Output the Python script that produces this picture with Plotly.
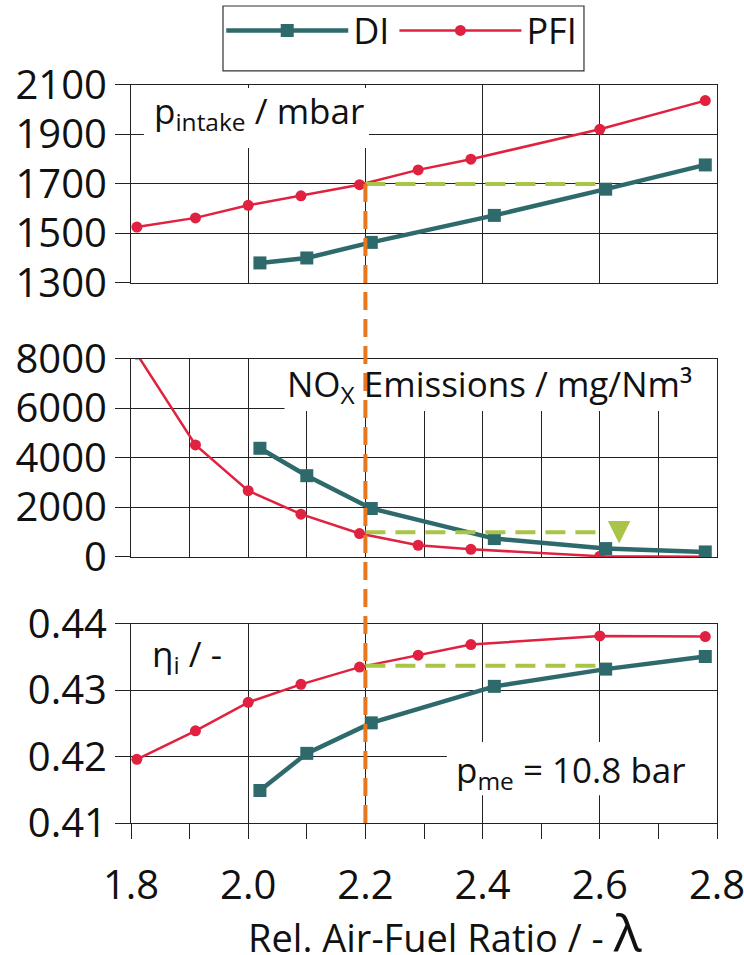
import plotly.graph_objects as go

# ---------------- data ----------------
lam_pfi = [1.81, 1.91, 2.00, 2.09, 2.19, 2.29, 2.38, 2.60, 2.78]
p_pfi = [1526, 1563, 1614, 1652, 1697, 1757, 1800, 1921, 2037]
nox_pfi = [8200, 4527, 2676, 1730, 946, 473, 311, 30, 10]
eta_pfi = [0.4196, 0.4239, 0.4282, 0.4309, 0.4335, 0.4353, 0.4369, 0.4382, 0.4381]

lam_di = [2.02, 2.10, 2.21, 2.42, 2.61, 2.78]
p_di = [1381, 1401, 1464, 1573, 1679, 1777]
nox_di = [4392, 3284, 1959, 743, 338, 203]
eta_di = [0.4149, 0.4205, 0.4251, 0.4306, 0.4332, 0.4351]

x_ticks = [1.8, 2.0, 2.2, 2.4, 2.6, 2.8]
x_ticktext = ["1.8", "2.0", "2.2", "2.4", "2.6", "2.8"]

lam_ref = 2.2          # chosen operating point (orange line)
p_ref = 1700           # intake pressure level (green line top)
nox_ref = 1000         # NOx level (green line middle)
eta_ref = 0.4337       # efficiency level (green line bottom)
lam_end = 2.6          # end of green lines
lam_arrow = 2.633      # position of green arrow
nox_arrow_top = 1350
nox_arrow_tip = 540

# ---------------- style ----------------
DI_C = "#2E6A6C"
PFI_C = "#E0213F"
ORANGE = "#E8771E"
GREEN = "#A9C547"
FONT = "Open Sans"
TICK_SIZE = 40

dom_top = [0.7037, 0.9110]
dom_mid = [0.4168, 0.6241]
dom_bot = [0.1382, 0.3466]

fig = go.Figure()

panels = [("x", "y", p_pfi, p_di), ("x2", "y2", nox_pfi, nox_di), ("x3", "y3", eta_pfi, eta_di)]
for i, (xa, ya, ypfi, ydi) in enumerate(panels):
    fig.add_trace(go.Scatter(x=lam_pfi, y=ypfi, xaxis=xa, yaxis=ya, mode="lines+markers",
                             name="PFI", showlegend=(i == 0), legendrank=2,
                             line=dict(color=PFI_C, width=2.5),
                             marker=dict(symbol="circle", size=11, color=PFI_C)))
    fig.add_trace(go.Scatter(x=lam_di, y=ydi, xaxis=xa, yaxis=ya, mode="lines+markers",
                             name="DI", showlegend=(i == 0), legendrank=1,
                             line=dict(color=DI_C, width=4.5),
                             marker=dict(symbol="square", size=13, color=DI_C)))

axis_common = dict(showline=True, linecolor="#222", linewidth=1.2, mirror=True,
                   gridcolor="#222", gridwidth=1, zeroline=False, automargin=False,
                   tickfont=dict(family=FONT, size=TICK_SIZE, color="#111"))

fig.update_layout(
    width=744, height=955,
    margin=dict(l=131, r=27, t=0, b=0, autoexpand=False),
    paper_bgcolor="white", plot_bgcolor="white",
    font=dict(family=FONT, color="#111"),
    showlegend=True,
    legend=dict(orientation="h", x=0.462, y=0.9995, xanchor="center", yanchor="top",
                borderwidth=0, bgcolor="rgba(0,0,0,0)",
                font=dict(family=FONT, size=36, color="#111"), itemwidth=122,
                traceorder="normal"),
    xaxis=dict(domain=[0, 1], anchor="y", range=[1.8, 2.8], tickvals=x_ticks,
               showticklabels=False, ticks="", showgrid=True, **axis_common),
    xaxis2=dict(domain=[0, 1], anchor="y2", range=[1.8, 2.8], dtick=0.1, tick0=1.8,
                showticklabels=False, ticks="", showgrid=True, **axis_common),
    xaxis3=dict(domain=[0, 1], anchor="y3", range=[1.8, 2.8], tickvals=x_ticks,
                ticktext=x_ticktext, ticks="outside", ticklen=15, tickcolor="#222",
                ticklabelstandoff=12, ticklabeloverflow="allow",
                minor=dict(dtick=0.1, tick0=1.8, ticks="outside", ticklen=15,
                           tickcolor="#222", showgrid=False),
                showgrid=True, **axis_common),
    yaxis=dict(domain=dom_top, anchor="x", range=[1300, 2100], dtick=200, tick0=1300,
               ticks="outside", ticklen=15, tickcolor="#222", showgrid=True, **axis_common),
    yaxis2=dict(domain=dom_mid, anchor="x2", range=[0, 8000], dtick=2000,
                ticks="outside", ticklen=15, tickcolor="#222", showgrid=True, **axis_common),
    yaxis3=dict(domain=dom_bot, anchor="x3", range=[0.41, 0.44], dtick=0.01,
                tickformat=".2f", ticks="outside", ticklen=15, tickcolor="#222",
                showgrid=True, **axis_common),
)

# legend frame
fig.add_shape(type="rect", xref="paper", yref="paper", x0=0.157, x1=0.773, y0=0.9257, y1=0.9937,
              line=dict(color="#333", width=1.2), fillcolor="rgba(0,0,0,0)")

# white boxes behind panel labels (cover gridlines, under traces)
fig.add_shape(type="rect", xref="x", yref="y", x0=1.822, x1=2.206, y0=1845, y1=2088,
              fillcolor="white", line=dict(width=0), layer="between")
fig.add_shape(type="rect", xref="x2", yref="y2", x0=2.062, x1=2.8, y0=5900, y1=8000,
              fillcolor="white", line=dict(width=0), layer="between")
fig.add_shape(type="rect", xref="x3", yref="y3", x0=2.339, x1=2.8, y0=0.4142, y1=0.4222,
              fillcolor="white", line=dict(width=0), layer="between")

# green dashed lines
dash = "20px,10px"
fig.add_shape(type="line", xref="x", yref="y", x0=lam_ref, x1=lam_end, y0=p_ref, y1=p_ref,
              line=dict(color=GREEN, width=4, dash=dash))
fig.add_shape(type="line", xref="x2", yref="y2", x0=lam_ref, x1=lam_end, y0=nox_ref, y1=nox_ref,
              line=dict(color=GREEN, width=4, dash=dash))
fig.add_shape(type="line", xref="x3", yref="y3", x0=lam_ref, x1=lam_end, y0=eta_ref, y1=eta_ref,
              line=dict(color=GREEN, width=4, dash=dash))
fig.add_annotation(xref="x2", yref="y2", axref="x2", ayref="y2",
                   x=lam_arrow, y=nox_arrow_tip, ax=lam_arrow, ay=nox_arrow_top,
                   showarrow=True, arrowhead=2, arrowsize=0.9, arrowwidth=5,
                   arrowcolor=GREEN, text="")

# orange vertical dashed line
y_top_orange = dom_top[0] + (p_ref - 1300) / (2100 - 1300) * (dom_top[1] - dom_top[0])
fig.add_shape(type="line", xref="x", yref="paper", x0=lam_ref, x1=lam_ref,
              y0=y_top_orange, y1=0.133,
              line=dict(color=ORANGE, width=4, dash="18px,9px"))

# panel labels
LBL = dict(family=FONT, size=35, color="#111")
fig.add_annotation(xref="x", yref="y", x=1.835, y=1987, xanchor="left", yanchor="middle",
                   text="p<sub>intake</sub> / mbar", showarrow=False, font=LBL)
fig.add_annotation(xref="x2", yref="y2", x=2.062, y=6909, xanchor="left", yanchor="middle",
                   text="NO<sub>X</sub> Emissions / mg/Nm³", showarrow=False, font=LBL)
fig.add_annotation(xref="x3", yref="y3", x=1.832, y=0.4353, xanchor="left", yanchor="middle",
                   text="η<sub>i</sub> / -", showarrow=False, font=LBL)
fig.add_annotation(xref="x3", yref="y3", x=2.352, y=0.4178, xanchor="left", yanchor="middle",
                   text="p<sub>me</sub> = 10.8 bar", showarrow=False, font=LBL)

# x-axis title
fig.add_annotation(xref="paper", yref="paper", x=0.535, y=0.025, xanchor="center",
                   yanchor="middle", showarrow=False,
                   text="Rel. Air-Fuel Ratio / - <span style='font-size:52px'>λ</span>",
                   font=dict(family=FONT, size=38, color="#111"))

fig.write_html("out.html")
